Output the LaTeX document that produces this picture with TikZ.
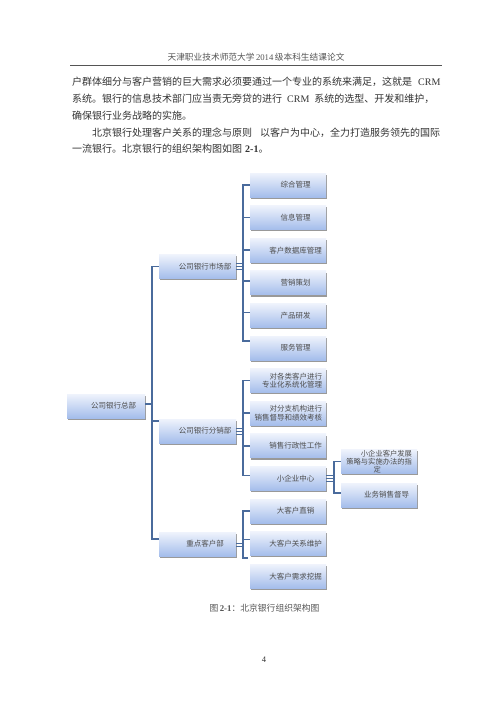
\documentclass[tikz,border=0pt]{standalone}
\usepackage{fontspec}
\setmainfont{Liberation Serif}
\newfontfamily\cjk{Noto Sans CJK SC}
\usetikzlibrary{shadows}
\definecolor{txt}{HTML}{333333}
\definecolor{hdr}{HTML}{555555}
\definecolor{boxtop}{HTML}{EFF3FC}
\definecolor{boxbot}{HTML}{A4BDEB}
\definecolor{boxtxt}{HTML}{4D4D4D}
\definecolor{connc}{HTML}{4A6B9C}
\tikzset{
  para/.style={anchor=west, inner sep=0pt, text=txt, font=\fontsize{10pt}{12pt}\selectfont},
  orgbox/.style={draw=none, minimum width=76pt, minimum height=24pt, inner sep=0pt,
    top color=boxtop, bottom color=boxbot,
    drop shadow={shadow xshift=0.5pt, shadow yshift=-1.8pt, fill=black!40, opacity=1},
    text=boxtxt, font=\cjk\fontsize{7.5pt}{8.7pt}\selectfont},
  twoline/.style={text width=68pt, align=right},
  conn/.style={draw=connc, line width=1.5pt},
  connthin/.style={draw=connc, line width=1pt},
}
\newcommand{\padl}[1]{\hspace*{15pt}#1}
\begin{document}
\begin{tikzpicture}[x=1pt,y=-1pt]
\fill[white] (0,0) rectangle (500,707);
\useasboundingbox (0,0) rectangle (500,707);

% header
\node[inner sep=0pt, text=hdr, font=\fontsize{8.7pt}{10pt}\selectfont] (hd) at (256,57)
  {{\cjk 天津职业技术师范大学}\,2014\,{\cjk 级本科生结课论文}};
\coordinate (hl) at (70,65);
\coordinate (hr) at (442,65);
\draw[hdr, line width=0.7pt] (hl) -- (hr);

% paragraph
\node[para] (p1) at (72,82) {{\cjk 户群体细分与客户营销的巨大需求必须要通过一个专业的系统来满足，这就是}\hspace{6pt}CRM};
\node[para] (p2) at (72,99) {{\cjk 系统。银行的信息技术部门应当责无旁贷的进行}\hspace{5pt}CRM\hspace{5pt}{\cjk 系统的选型、开发和维护，}};
\node[para] (p3) at (72,116) {{\cjk 确保银行业务战略的实施。}};
\node[para] (p4) at (92,133) {{\cjk 北京银行处理客户关系的理念与原则}\hspace{8pt}{\cjk 以客户为中心，全力打造服务领先的国际}};
\node[para] (p5) at (72,149) {{\cjk 一流银行。北京银行的组织架构图如图}\hspace{3pt}\textbf{2-1}{\cjk 。}};

% column 1
\node[orgbox, minimum width=78pt] (g0) at (106,406) {\padl{公司银行总部}};
% column 2
\node[orgbox, minimum width=77pt] (m) at (197.5,266.5) {\padl{公司银行市场部}};
\node[orgbox, minimum width=77pt] (d) at (197.5,431) {\padl{公司银行分销部}};
\node[orgbox, minimum width=77pt] (k) at (197.5,544) {\padl{重点客户部}};
% column 3
\node[orgbox] (k0) at (288,185) {\padl{综合管理}};
\node[orgbox] (k1) at (288,217.6) {\padl{信息管理}};
\node[orgbox] (k2) at (288,250.2) {\padl{客户数据库管理}};
\node[orgbox] (k3) at (288,282.8) {\padl{营销策划}};
\node[orgbox] (k4) at (288,315.4) {\padl{产品研发}};
\node[orgbox] (k5) at (288,348) {\padl{服务管理}};
\node[orgbox, twoline] (k6) at (288,380.6) {对各类客户进行\\专业化系统化管理};
\node[orgbox, twoline] (k7) at (288,413.2) {对分支机构进行\\销售督导和绩效考核};
\node[orgbox] (k8) at (288,445.8) {\padl{销售行政性工作}};
\node[orgbox] (k9) at (288,478.4) {\padl{小企业中心}};
\node[orgbox] (k10) at (288,511) {\padl{大客户直销}};
\node[orgbox] (k11) at (288,543.6) {\padl{大客户关系维护}};
\node[orgbox] (k12) at (288,576.2) {\padl{大客户需求挖掘}};
% column 4
\node[orgbox, text width=66pt, align=right, font=\cjk\fontsize{7.3pt}{8pt}\selectfont] (s1) at (379,461.5)
  {小企业客户发展\\策略与实施办法的指\\定\rule{31pt}{0pt}};
\node[orgbox] (s2) at (379,495) {\padl{业务销售督导}};

% connectors: level 1
\draw[conn] (m.west) -- ++(-7,0) |- ([yshift=5pt]k.west);
\draw[conn] ([yshift=10pt]d.west) -- ++(-7,0);
\draw[conn] ([yshift=2pt]g0.east) -- ++(7,0);

% market dept
\draw[conn] (k0.west) -- ++(-7,0) |- ([yshift=7pt]k5.west);
\draw[conn] (k1.west) -- ++(-7,0);
\draw[conn] (k2.west) -- ++(-7,0);
\draw[conn] ([yshift=2pt]k3.west) -- ++(-7,0);
\draw[conn] ([yshift=3pt]k4.west) -- ++(-7,0);
\foreach \s in {-3,0,3} \draw[connthin] ([yshift=\s pt]m.east) -- ++(7,0);

% distribution dept
\draw[conn] (k6.west) -- ++(-7,0) |- ([yshift=3pt]k9.west);
\draw[conn] (k7.west) -- ++(-7,0);
\draw[conn] (k8.west) -- ++(-7,0);
\foreach \s in {-3,0,3} \draw[connthin] ([yshift=\s pt]d.east) -- ++(7,0);

% key account dept
\coordinate (kend) at (248,558);
\draw[conn] (k10.west) -- ++(-7,0) |- (kend);
\draw[conn] ([yshift=4pt]k11.west) -- ++(-7,0);
\foreach \s in {-2,1} \draw[connthin] ([yshift=\s pt]k.east) -- ++(7,0);

% small enterprise center
\draw[conn] (s1.west) -- ++(-7,0) |- ([yshift=2pt]s2.west);
\foreach \s in {-3,0,3} \draw[connthin] ([yshift=\s pt]k9.east) -- ++(8,0);

% caption and page number
\node[inner sep=0pt, text=hdr, font=\fontsize{8.8pt}{10pt}\selectfont] (cap) at (264.5,608)
  {{\cjk 图}\,\textbf{2-1}{\cjk ：北京银行组织架构图}};
\node[inner sep=0pt, text=txt, font=\fontsize{8.5pt}{10pt}\selectfont] (pg) at (264,660) {4};
\end{tikzpicture}
\end{document}
